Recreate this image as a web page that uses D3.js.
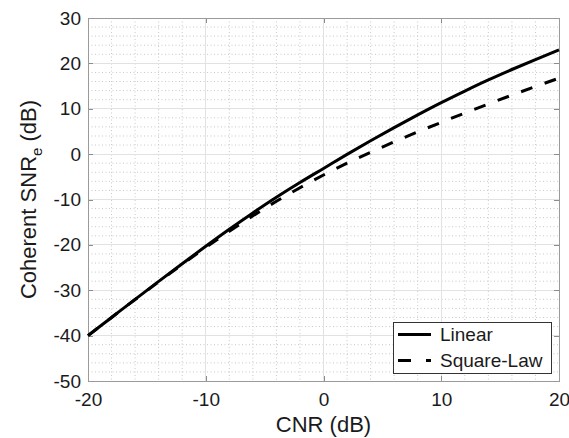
<!DOCTYPE html>
<html lang="en">
<head>
    <meta charset="UTF-8">
    <title>Coherent SNR vs CNR</title>
    <script src="https://cdn.jsdelivr.net/npm/d3@7"></script>
    <style>
        body { margin: 0; background: #fff; }
        svg { font-family: "Liberation Sans", Arial, sans-serif; }
        .axis path { display: none; }
        .axis line { stroke: #8c8c8c; shape-rendering: crispEdges; }
        .axis text { font-size: 19px; fill: #1a1a1a; }
    </style>
</head>
<body>
<script>
	// data
	var cnr = [-20, -18, -16, -14, -12, -10, -8, -6, -4, -2, 0, 2, 4, 6, 8, 10, 12, 14, 16, 18, 20];
	var linearSnr = [-40, -36, -32, -28.05, -24.15, -20.3, -16.55, -12.95, -9.5, -6.25, -3.15, -0.05, 2.95, 5.85, 8.65, 11.35, 13.9, 16.35, 18.65, 20.85, 23.0];
	var squareSnr = [-40, -36, -32.05, -28.15, -24.3, -20.55, -17.0, -13.6, -10.4, -7.4, -4.6, -2.0, 0.4, 2.7, 4.9, 7.0, 9.05, 11.05, 13.0, 14.9, 16.75];
	var xTicks = [-20, -10, 0, 10, 20];
	var yTicks = [-50, -40, -30, -20, -10, 0, 10, 20, 30];
	var seriesNames = ["Linear", "Square-Law"];

	var width = 569, height = 438;
	var margin = {left: 88, top: 18, right: 10, bottom: 57};
	var w = width - margin.left - margin.right;
	var h = height - margin.top - margin.bottom;

	var svg = d3.select("body").append("svg")
		.attr("width", width)
		.attr("height", height);

	var g = svg.append("g").attr("transform", "translate(" + margin.left + "," + margin.top + ")");

	var x = d3.scaleLinear().domain([-20, 20]).range([0, w]);
	var y = d3.scaleLinear().domain([-50, 30]).range([h, 0]);
	var fmt = function (d) { return String(d); }; // plain hyphen minus

	// minor grid every 2 dB, dotted
	var minorX = d3.range(-20, 21, 2).filter(function (d) { return d % 10 !== 0; });
	var minorY = d3.range(-50, 31, 2).filter(function (d) { return d % 10 !== 0; });
	g.selectAll(".mx").data(minorX).enter().append("line")
		.attr("x1", d => x(d)).attr("x2", d => x(d))
		.attr("y1", 0).attr("y2", h)
		.attr("stroke", "#c8c8c8").attr("stroke-dasharray", "1,2.5");
	g.selectAll(".my").data(minorY).enter().append("line")
		.attr("y1", d => y(d)).attr("y2", d => y(d))
		.attr("x1", 0).attr("x2", w)
		.attr("stroke", "#c8c8c8").attr("stroke-dasharray", "1,2.5");

	// major grid
	g.selectAll(".gx").data(xTicks).enter().append("line")
		.attr("x1", d => x(d)).attr("x2", d => x(d))
		.attr("y1", 0).attr("y2", h)
		.attr("stroke", "#e2e2e2").attr("shape-rendering", "crispEdges");
	g.selectAll(".gy").data(yTicks).enter().append("line")
		.attr("y1", d => y(d)).attr("y2", d => y(d))
		.attr("x1", 0).attr("x2", w)
		.attr("stroke", "#e2e2e2").attr("shape-rendering", "crispEdges");

	// axes, ticks pointing inward
	g.append("g").attr("class", "axis").attr("transform", "translate(0," + h + ")")
		.call(d3.axisBottom(x).tickValues(xTicks).tickFormat(fmt).tickSizeInner(-5).tickSizeOuter(0).tickPadding(12));
	g.append("g").attr("class", "axis")
		.call(d3.axisLeft(y).tickValues(yTicks).tickFormat(fmt).tickSizeInner(-5).tickSizeOuter(0).tickPadding(7));
	g.append("g").attr("class", "axis")
		.call(d3.axisTop(x).tickValues(xTicks).tickSizeInner(-5).tickSizeOuter(0).tickFormat(""));
	g.append("g").attr("class", "axis").attr("transform", "translate(" + w + ",0)")
		.call(d3.axisRight(y).tickValues(yTicks).tickSizeInner(-5).tickSizeOuter(0).tickFormat(""));

	// box
	g.append("rect").attr("x", 0).attr("y", 0).attr("width", w).attr("height", h)
		.attr("fill", "none").attr("stroke", "#9a9a9a").attr("shape-rendering", "crispEdges");

	// curves
	var line = d3.line().x(d => x(d[0])).y(d => y(d[1])).curve(d3.curveMonotoneX);
	g.append("path").datum(d3.zip(cnr, linearSnr))
		.attr("d", line).attr("fill", "none").attr("stroke", "#000").attr("stroke-width", 3);
	g.append("path").datum(d3.zip(cnr, squareSnr))
		.attr("d", line).attr("fill", "none").attr("stroke", "#000").attr("stroke-width", 3)
		.attr("stroke-dasharray", "12,13");

	// axis titles
	svg.append("text")
		.attr("x", margin.left + w / 2).attr("y", 432)
		.attr("text-anchor", "middle").attr("font-size", 22).attr("fill", "#1a1a1a")
		.text("CNR (dB)");
	var yt = svg.append("text")
		.attr("transform", "translate(36," + (margin.top + h / 2) + ") rotate(-90)")
		.attr("text-anchor", "middle").attr("font-size", 22).attr("fill", "#1a1a1a");
	yt.append("tspan").text("Coherent SNR");
	yt.append("tspan").attr("font-size", 15).attr("dy", 6).text("e");
	yt.append("tspan").attr("dy", -6).text(" (dB)");

	// legend
	var lg = svg.append("g").attr("transform", "translate(393,322)");
	lg.append("rect").attr("width", 158).attr("height", 51)
		.attr("fill", "#fff").attr("stroke", "#333").attr("shape-rendering", "crispEdges");
	seriesNames.forEach(function (name, i) {
		var yy = 12.5 + i * 26;
		lg.append("line").attr("x1", 5).attr("x2", 38).attr("y1", yy).attr("y2", yy)
			.attr("stroke", "#000").attr("stroke-width", 3)
			.attr("stroke-dasharray", i === 1 ? "13,15" : null);
		lg.append("text").attr("x", 47).attr("y", yy).attr("dy", "0.35em")
			.attr("font-size", 19).attr("fill", "#1a1a1a").text(name);
	});
</script>
</body>
</html>
